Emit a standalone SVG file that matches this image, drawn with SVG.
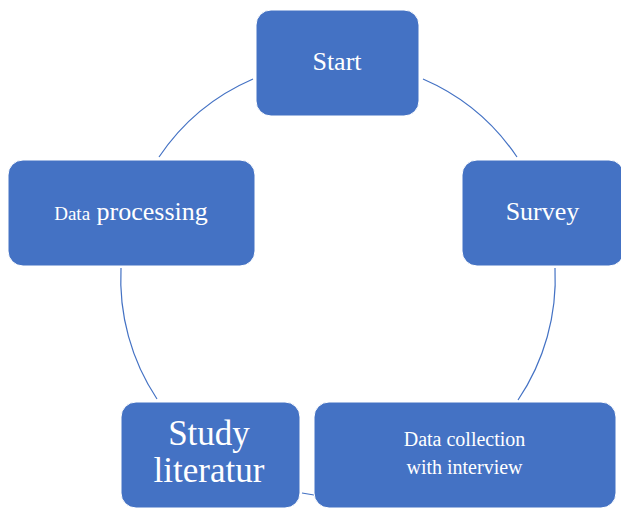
<svg xmlns="http://www.w3.org/2000/svg" width="621" height="508" viewBox="0 0 621 508">
<style>
.box{fill:#4472C4;stroke:#ffffff;stroke-width:1}
.t{font-family:"Liberation Serif","DejaVu Serif",serif;fill:#ffffff;text-anchor:middle}
.arc{fill:none;stroke:#4472C4;stroke-width:1.2}
</style>
<rect width="621" height="508" fill="#ffffff"/>
<g id="connectors">
<path class="arc" d="M423,79 A217,217 0 0 1 517,157"/>
<path class="arc" d="M555,268 A217,217 0 0 1 518,400"/>
<path class="arc" d="M314,495 A217,217 0 0 1 302,493"/>
<path class="arc" d="M157,399 A217,217 0 0 1 121,268"/>
<path class="arc" d="M159,157 A217,217 0 0 1 253,79"/>
</g>
<g id="start">
<rect class="box" x="256" y="10" width="163" height="106" rx="15"/>
<text class="t" x="337" y="70" font-size="26">Start</text>
</g>
<g id="survey">
<rect class="box" x="462" y="160" width="162" height="106" rx="15"/>
<text class="t" x="542.5" y="220" font-size="26">Survey</text>
</g>
<g id="data-collection">
<rect class="box" x="314" y="402" width="302" height="106" rx="15"/>
<text class="t" x="464.5" y="446" font-size="20">Data collection</text>
<text class="t" x="464.5" y="474" font-size="20">with interview</text>
</g>
<g id="study-literatur">
<rect class="box" x="121" y="402" width="179" height="106" rx="15"/>
<text class="t" x="209" y="445" font-size="35">Study</text>
<text class="t" x="209" y="482" font-size="35">literatur</text>
</g>
<g id="data-processing">
<rect class="box" x="8" y="160" width="247" height="106" rx="15"/>
<text class="t" x="131" y="220"><tspan font-size="19">Data</tspan><tspan font-size="26"> processing</tspan></text>
</g>
</svg>
